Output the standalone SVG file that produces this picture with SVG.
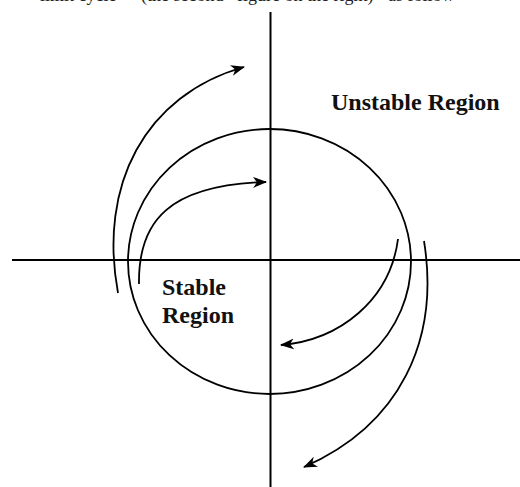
<svg xmlns="http://www.w3.org/2000/svg" width="520" height="487" viewBox="0 0 520 487">
  <style>
    .axis { stroke: #000; stroke-width: 2; fill: none; }
    .curve { stroke: #000; stroke-width: 1.8; fill: none; }
    .label { font-family: "Liberation Serif", "Times New Roman", serif; font-weight: bold; font-size: 24px; fill: #111; }
    .top { font-family: "Liberation Serif", "Times New Roman", serif; font-size: 18px; fill: #222; }
  </style>
  <defs>
    <marker id="arrow" markerUnits="userSpaceOnUse" markerWidth="14" markerHeight="12" viewBox="0 0 14 12" refX="13" refY="6" orient="auto">
      <path d="M0,0.5 L14,6 L0,11.5 L4,6 Z" fill="#000"/>
    </marker>
  </defs>
  <rect width="520" height="487" fill="#fff"/>
  <text class="top" y="0.5"><tspan x="40">limit cycle</tspan><tspan x="141">(the second</tspan><tspan x="237">figure on the right)</tspan><tspan x="388">as follow</tspan></text>

  <g id="axes">
    <line class="axis" x1="12" y1="260" x2="520" y2="260"/>
    <line class="axis" x1="270.5" y1="12" x2="270.5" y2="487"/>
  </g>

  <g id="limit-cycle">
    <ellipse class="curve" cx="269.5" cy="261.5" rx="141.5" ry="132.5"/>
  </g>

  <g id="connectors">
    <path class="curve" d="M118,293 C98,185 145,95 244,67" marker-end="url(#arrow)"/>
    <path class="curve" d="M139,284 C138,220 170,185 266,182" marker-end="url(#arrow)"/>
    <path class="curve" d="M398,239 C390,300 340,340 281,345" marker-end="url(#arrow)"/>
    <path class="curve" d="M424,241 C440,340 400,425 304,467" marker-end="url(#arrow)"/>
  </g>

  <g id="unstable-label">
    <text class="label" x="331" y="110">Unstable Region</text>
  </g>
  <g id="stable-label">
    <text class="label" x="162" y="295">Stable</text>
    <text class="label" x="162" y="323">Region</text>
  </g>
</svg>
